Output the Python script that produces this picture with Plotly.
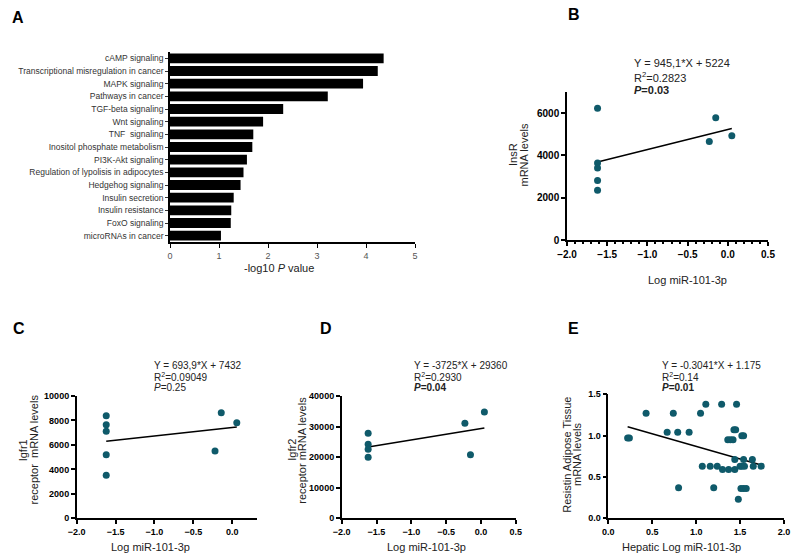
import plotly.graph_objects as go
import numpy as np

W, H = 795, 558

# ---------------- Data ----------------
pathways = [
    "cAMP signaling",
    "Transcriptional misregulation in cancer",
    "MAPK signaling",
    "Pathways in cancer",
    "TGF-beta signaling",
    "Wnt signaling",
    "TNF  signaling",
    "Inositol phosphate metabolism",
    "PI3K-Akt signaling",
    "Regulation of lypolisis in adipocytes",
    "Hedgehog signaling",
    "Insulin secretion",
    "Insulin resistance",
    "FoxO signaling",
    "microRNAs in cancer",
]
neg_log10_p = [4.36, 4.24, 3.94, 3.22, 2.31, 1.90, 1.70, 1.68, 1.57, 1.50, 1.44, 1.30, 1.25, 1.24, 1.04]

b_x = [-1.62, -1.62, -1.62, -1.62, -1.62, -0.23, -0.15, 0.05]
b_y = [6230, 3640, 3400, 2810, 2350, 4660, 5780, 4930]
b_fit = (945.1, 5224)

c_x = [-1.62, -1.62, -1.62, -1.62, -1.62, -0.22, -0.14, 0.06]
c_y = [8390, 7650, 7110, 5200, 3510, 5500, 8640, 7820]
c_fit = (693.9, 7432)

d_x = [-1.62, -1.62, -1.62, -1.62, -0.23, -0.15, 0.05]
d_y = [27800, 24200, 22560, 19950, 31070, 20800, 34760]
d_fit = (3725, 29360)

e_x = [0.22, 0.24, 0.43, 0.67, 0.74, 0.79, 0.80, 0.92, 1.05, 1.07, 1.11, 1.16, 1.20,
       1.24, 1.29, 1.30, 1.36, 1.39, 1.42, 1.37, 1.43, 1.45, 1.44, 1.44, 1.46, 1.48,
       1.50, 1.52, 1.55, 1.52, 1.54, 1.51, 1.54, 1.57, 1.54, 1.64, 1.65, 1.74]
e_y = [0.97, 0.97, 1.27, 1.04, 1.27, 1.04, 0.37, 1.04, 1.27, 0.63, 1.38, 0.63, 0.37,
       0.63, 1.38, 0.59, 0.95, 0.95, 0.95, 0.59, 1.07, 1.07, 0.71, 0.59, 1.38, 0.23,
       0.63, 0.63, 0.63, 1.00, 1.00, 0.36, 0.36, 0.36, 0.71, 0.71, 0.63, 0.63]
e_fit = (-0.3041, 1.175)

eq_b = ["Y = 945,1*X + 5224", "R<sup>2</sup>=0.2823", "<b><i>P</i>=0.03</b>"]
eq_c = ["Y = 693,9*X + 7432", "R<sup>2</sup>=0.09049", "<i>P</i>=0.25"]
eq_d = ["Y = -3725*X + 29360", "R<sup>2</sup>=0.2930", "<b><i>P</i>=0.04</b>"]
eq_e = ["Y = -0.3041*X + 1.175", "R<sup>2</sup>=0.14", "<b><i>P</i>=0.01</b>"]

FONT = "Liberation Sans, Arial, sans-serif"
DOT = "#0f5a6a"


def px(x):
    return x / W


def py(y):
    return 1 - y / H


fig = go.Figure()

fig.add_trace(go.Bar(
    x=neg_log10_p, y=pathways, orientation="h",
    marker=dict(color="black", line=dict(width=0)), width=0.78,
    xaxis="x", yaxis="y", showlegend=False,
))

panels = [
    (b_x, b_y, b_fit, "x2", "y2"),
    (c_x, c_y, c_fit, "x3", "y3"),
    (d_x, d_y, d_fit, "x4", "y4"),
    (e_x, e_y, e_fit, "x5", "y5"),
]
for xs, ys, (m, k), xa, ya in panels:
    xl = np.array([min(xs), max(xs)])
    fig.add_trace(go.Scatter(x=xl, y=m * xl + k, mode="lines",
                             line=dict(color="black", width=1.5),
                             xaxis=xa, yaxis=ya, showlegend=False))
    fig.add_trace(go.Scatter(x=xs, y=ys, mode="markers",
                             marker=dict(color=DOT, size=7),
                             xaxis=xa, yaxis=ya, showlegend=False))


def sc_axis(domain, rng, anchor, fs=9, **kw):
    d = dict(domain=domain, range=rng, anchor=anchor, showline=True, linecolor="black",
             linewidth=1.5, ticks="outside", ticklen=4, tickwidth=1.5, tickcolor="black",
             showgrid=False, zeroline=False, automargin=False,
             tickfont=dict(family=FONT, size=fs, color="black", weight="bold"))
    d.update(kw)
    return d


layout_axes = dict(
    xaxis=dict(domain=[px(170), px(415)], range=[0, 5], anchor="y", showline=True,
               linecolor="black", linewidth=1.5, ticks="outside", ticklen=4,
               tickwidth=1.2, tickcolor="black", tickvals=[0, 1, 2, 3, 4, 5],
               showgrid=False, zeroline=False, automargin=False,
               tickfont=dict(family=FONT, size=9, color="#555")),
    yaxis=dict(domain=[py(242), py(52)], anchor="x", type="category",
               range=[14.5, -0.5], showline=True, linecolor="black", linewidth=1.5,
               ticks="outside", ticklen=3, tickwidth=1.2, tickcolor="#333",
               showgrid=False, zeroline=False, automargin=False,
               tickfont=dict(family=FONT, size=8.5, color="#333")),
    xaxis2=sc_axis([px(567), px(768)], [-2, 0.5], "y2", fs=10, dtick=0.5, tick0=-2,
                   tickformat=".1f",
                   minor=dict(ticks="outside", ticklen=2, dtick=0.1, tickcolor="black")),
    yaxis2=sc_axis([py(240), py(92)], [0, 7000], "x2", fs=10,
                   tickvals=[0, 2000, 4000, 6000], tickformat="d"),
    xaxis3=sc_axis([px(76.7), px(257)], [-2, 0.32], "y3",
                   tickvals=[-2, -1.5, -1, -0.5, 0], tickformat=".1f"),
    yaxis3=sc_axis([py(518.3), py(396)], [0, 10000], "x3", dtick=2000, tick0=0,
                   tickformat="d"),
    xaxis4=sc_axis([px(341.7), px(515.7)], [-2, 0.5], "y4", dtick=0.5, tick0=-2,
                   tickformat=".1f"),
    yaxis4=sc_axis([py(518.3), py(396)], [0, 40000], "x4", dtick=10000, tick0=0,
                   tickformat="d"),
    xaxis5=sc_axis([px(608.3), px(784)], [0, 2], "y5", dtick=0.5, tick0=0,
                   tickformat=".1f"),
    yaxis5=sc_axis([py(518.3), py(394.3)], [0, 1.5], "x5", dtick=0.5, tick0=0,
                   tickformat=".1f"),
)

ann = []


def add_text(x, y, text, size=11, anchor="center", angle=0, bold=False, color="#222"):
    ann.append(dict(x=px(x), y=py(y), xref="paper", yref="paper", text=text,
                    showarrow=False, xanchor=anchor, yanchor="middle", textangle=angle,
                    font=dict(family=FONT, size=size, color=color,
                              weight="bold" if bold else "normal")))


# Panel letters
for lx, ly, t in [(18, 17, "A"), (574, 15, "B"), (19, 328, "C"), (325.5, 328, "D"),
                  (573.5, 328, "E")]:
    add_text(lx, ly, t, size=16, bold=True, color="black")

# Equations
for (ex, ys, lines, fs) in [(631.7, [63, 77, 90], eq_b, 11),
                            (151.7, [365.7, 376.7, 387.7], eq_c, 10),
                            (411.7, [365.7, 376.7, 387.7], eq_d, 10),
                            (660, [365.7, 376.7, 387.7], eq_e, 10)]:
    for yy, t in zip(ys, lines):
        add_text(ex, yy, t, size=fs, anchor="left")

# X-axis titles
add_text(279, 268, "-log10 <i>P</i> value", size=11)
add_text(687, 280, "Log miR-101-3p", size=11)
add_text(150, 547, "Log miR-101-3p", size=11)
add_text(426.7, 547, "Log miR-101-3p", size=11)
add_text(681.7, 547, "Hepatic Log miR-101-3p", size=11)

# Y-axis titles (two lines each, rotated)
for (x1, x2, yc, l1, l2) in [(513, 523.5, 155, "InsR", "mRNA levels"),
                             (23.3, 33.5, 450, "Igfr1", "receptor  mRNA levels"),
                             (291.7, 301.7, 450, "Igfr2", "receptor mRNA levels"),
                             (566.7, 577, 455, "Resistin Adipose Tissue", "mRNA levels")]:
    add_text(x1, yc, l1, size=11, angle=-90)
    add_text(x2, yc, l2, size=11, angle=-90)

fig.update_layout(
    width=W, height=H, autosize=False,
    margin=dict(l=0, r=0, t=0, b=0),
    paper_bgcolor="white", plot_bgcolor="white",
    showlegend=False, annotations=ann,
    **layout_axes,
)

fig.write_html(
    "out.html",
    config={"displayModeBar": False},
    post_script="document.body.style.margin='0';document.body.style.padding='0';"
                "document.body.style.overflow='hidden';",
)
